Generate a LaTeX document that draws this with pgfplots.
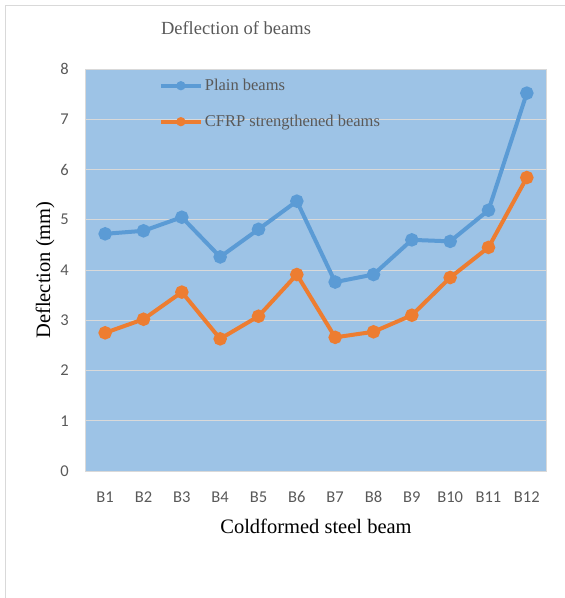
\documentclass[border=0pt]{standalone}
\usepackage{pgfplots}
\pgfplotsset{compat=1.18}
\usepackage{fontspec}
\setmainfont{Liberation Serif}
\newfontfamily\calibri{Carlito}

\definecolor{plotbg}{HTML}{9DC3E6}
\definecolor{gridgray}{HTML}{D9D9D9}
\definecolor{txtgray}{HTML}{595959}
\definecolor{plainblue}{HTML}{5B9BD5}
\definecolor{cfrporange}{HTML}{ED7D31}

\begin{document}
\begin{tikzpicture}
% axis box: lower left corner at (0,0), 460pt x 402pt; whole chart 565pt x 598pt
\path[use as bounding box] (-86pt,-127pt) rectangle (479pt,471pt);
\draw[gridgray, line width=1pt] (-80pt,-127pt) -- (-80pt,465pt) -- (479pt,465pt);
\node[text=txtgray, font=\fontsize{18.5}{21}\selectfont] at (150pt,443pt) {Deflection of beams};
\begin{axis}[
    scale only axis,
    width=460pt, height=402pt,
    xmin=-0.5, xmax=11.5,
    ymin=0, ymax=8,
    ytick={0,1,2,3,4,5,6,7,8},
    xtick={0,1,2,3,4,5,6,7,8,9,10,11},
    xticklabels={B1,B2,B3,B4,B5,B6,B7,B8,B9,B10,B11,B12},
    major tick length=0pt,
    ymajorgrids,
    major grid style={gridgray, line width=1pt},
    axis line style={gridgray, line width=1pt},
    axis background/.style={fill=plotbg},
    /pgf/number format/assume math mode=true,
    tick label style={text=txtgray, font=\calibri\fontsize{16.5}{19}\selectfont},
    yticklabel style={inner sep=0pt, anchor=east, xshift=-17pt},
    xticklabel style={inner sep=0pt, anchor=base, yshift=-31pt},
    xlabel={Coldformed steel beam},
    ylabel={Deflection (mm)},
    label style={font=\fontsize{20.5}{24}\selectfont, text=black},
    xlabel style={at={(axis description cs:0.5,-0.1368)}, anchor=center},
    ylabel style={at={(axis description cs:-0.089,0.5)}, anchor=center},
    legend style={draw=none, fill=none, at={(axis description cs:0.158,0.98)}, anchor=north west,
        font=\fontsize{16.5}{19}\selectfont, text=txtgray, row sep=19pt, inner sep=0pt},
    legend cell align={left},
    legend image code/.code={
        \draw[#1, mark repeat=2, mark phase=2, mark size=2.5pt] plot coordinates {(0pt,0pt) (20pt,0pt) (40pt,0pt)};
    },
    every axis plot/.append style={line width=4pt, mark=*, mark size=4.7pt, mark options={solid}},
]
\addplot[plainblue] coordinates {
    (0,4.72) (1,4.78) (2,5.05) (3,4.26) (4,4.81) (5,5.37)
    (6,3.76) (7,3.91) (8,4.60) (9,4.57) (10,5.19) (11,7.52)};
\addplot[cfrporange] coordinates {
    (0,2.75) (1,3.02) (2,3.56) (3,2.63) (4,3.08) (5,3.91)
    (6,2.66) (7,2.77) (8,3.10) (9,3.85) (10,4.45) (11,5.84)};
\legend{Plain beams, CFRP strengthened beams}
\end{axis}
\end{tikzpicture}
\end{document}
